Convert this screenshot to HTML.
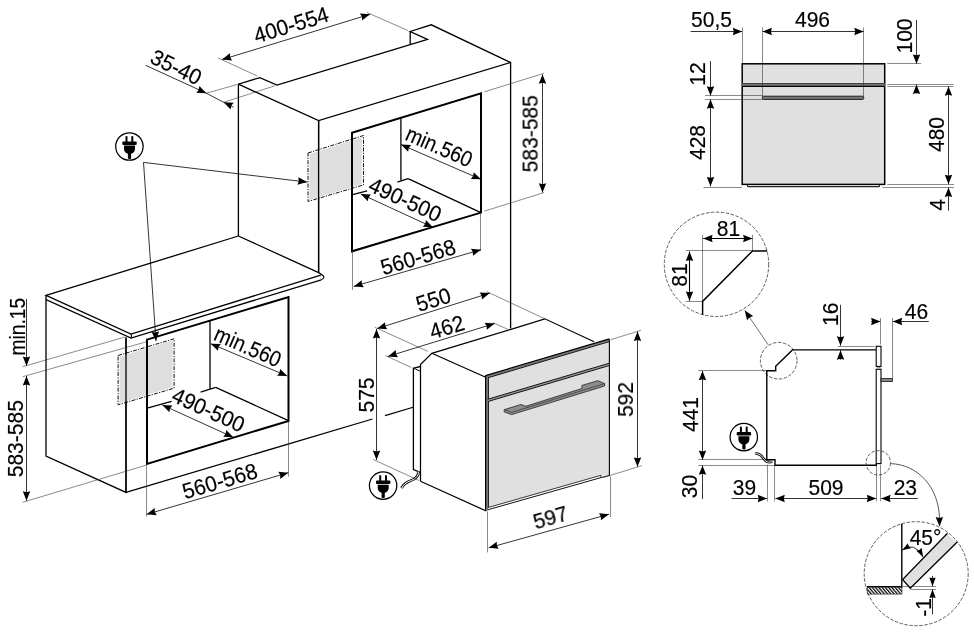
<!DOCTYPE html>
<html><head><meta charset="utf-8"><title>Oven installation diagram</title>
<style>
html,body{margin:0;padding:0;background:#fff;}
body{width:974px;height:634px;overflow:hidden;}
svg{display:block;}
text{font-family:"Liberation Sans",sans-serif;fill:#000;stroke:#000;stroke-width:0.18px;}

</style></head><body>
<svg width="974" height="634" viewBox="0 0 974 634">
<defs><filter id="soft" x="0" y="0" width="974" height="634" filterUnits="userSpaceOnUse"><feGaussianBlur stdDeviation="0.28"/></filter></defs>
<rect width="974" height="634" fill="#fff"/>
<path d="M238.4,236.0 L238.4,84.2 L259.8,77.6 L277.0,85.0 L427.5,39.4 L410.2,31.5 L431.3,24.8 L510.6,62.5 L510.6,328.5" stroke="#000" stroke-width="1.3" fill="none" stroke-linejoin="miter" />
<line x1="410.2" y1="31.5" x2="410.2" y2="44.3" stroke="#000" stroke-width="1.3" />
<path d="M238.4,84.2 L318.6,120.5 L510.6,62.5" stroke="#000" stroke-width="1.3" fill="none" stroke-linejoin="miter" />
<line x1="318.6" y1="120.5" x2="318.6" y2="272.6" stroke="#000" stroke-width="1.3" />
<path d="M352.0,132.7 L481.0,93.3 L481.0,212.6 L352.0,251.3 Z" stroke="#000" stroke-width="2.0" fill="none" stroke-linejoin="miter" />
<line x1="400.9" y1="117.6" x2="400.9" y2="180.4" stroke="#000" stroke-width="1.3" />
<line x1="408.1" y1="178.7" x2="480.9" y2="212.6" stroke="#000" stroke-width="1.3" />
<line x1="408.1" y1="178.7" x2="397.4" y2="182.1" stroke="#000" stroke-width="1.3" />
<line x1="367.1" y1="190.9" x2="352.6" y2="194.7" stroke="#000" stroke-width="1.3" />
<path d="M309.7,154.0 L362.2,137.0 L361.8,183.9 L309.3,200.0 Z" stroke="none" stroke-width="0" fill="#dedede" stroke-linejoin="miter" />
<path d="M308.0,153.0 L363.5,135.5 L363.5,184.9 L308.0,201.5 Z" stroke="#111" stroke-width="1.0" fill="none" stroke-linejoin="miter" stroke-dasharray="4 1.3 1.2 1.3"/>
<line x1="352.0" y1="132.7" x2="352.0" y2="251.3" stroke="#000" stroke-width="2.0" />
<line x1="318.6" y1="120.5" x2="318.6" y2="272.6" stroke="#000" stroke-width="1.3" />
<path d="M238.4,236.0 L46.0,295.4 L131.0,334.0 L320.8,275.1" stroke="#000" stroke-width="1.3" fill="none" stroke-linejoin="miter" />
<path d="M238.4,236.0 L318.6,272.6 L322.0,274.8" stroke="#000" stroke-width="1.3" fill="none" stroke-linejoin="miter" />
<path d="M46.0,295.4 L46.0,299.7 L131.0,338.0 L321.3,279.8" stroke="#000" stroke-width="1.3" fill="none" stroke-linejoin="miter" />
<path d="M131,334 Q132,336 131,338" stroke="#000" fill="none" stroke-width="1.1"/>
<path d="M321.5,274.6 Q326.5,277.3 321.3,279.8" stroke="#000" fill="none" stroke-width="1.1"/>
<path d="M46.0,299.7 L46.0,456.0 L126.0,492.4 L126.0,337.5" stroke="#000" stroke-width="1.3" fill="none" stroke-linejoin="miter" />
<line x1="126.0" y1="492.4" x2="372.5" y2="419.0" stroke="#000" stroke-width="1.3" />
<line x1="385.0" y1="415.7" x2="414.0" y2="407.0" stroke="#000" stroke-width="1.3" />
<path d="M147.0,339.6 L288.5,297.0 L288.5,420.9 L147.0,464.0 Z" stroke="#000" stroke-width="2.0" fill="none" stroke-linejoin="miter" />
<line x1="210.0" y1="320.8" x2="210.0" y2="389.0" stroke="#000" stroke-width="1.3" />
<line x1="215.7" y1="387.4" x2="288.4" y2="420.6" stroke="#000" stroke-width="1.3" />
<line x1="215.7" y1="387.4" x2="200.6" y2="392.1" stroke="#000" stroke-width="1.3" />
<line x1="171.6" y1="401.3" x2="147.2" y2="408.2" stroke="#000" stroke-width="1.3" />
<path d="M119.8,356.5 L172.8,340.3 L172.4,387.2 L119.4,403.3 Z" stroke="none" stroke-width="0" fill="#dedede" stroke-linejoin="miter" />
<path d="M118.1,355.5 L174.1,338.8 L174.1,388.2 L118.1,404.8 Z" stroke="#111" stroke-width="1.0" fill="none" stroke-linejoin="miter" stroke-dasharray="4 1.3 1.2 1.3"/>
<line x1="147.0" y1="339.6" x2="147.0" y2="464.0" stroke="#000" stroke-width="2.0" />
<line x1="126.0" y1="337.5" x2="126.0" y2="492.4" stroke="#000" stroke-width="1.3" />
<line x1="26.5" y1="299.0" x2="26.5" y2="366.0" stroke="#000" stroke-width="0.8" />
<polygon points="26.50,366.00 22.80,356.60 26.50,357.54 30.20,356.60" fill="#000"/>
<line x1="26.5" y1="376.0" x2="26.5" y2="500.7" stroke="#000" stroke-width="0.8" />
<polygon points="26.50,376.00 30.20,385.40 26.50,384.46 22.80,385.40" fill="#000"/>
<polygon points="26.50,500.70 22.80,491.30 26.50,492.24 30.20,491.30" fill="#000"/>
<line x1="22.7" y1="366.7" x2="125.0" y2="337.0" stroke="#2a2a2a" stroke-width="0.55" />
<line x1="22.7" y1="376.7" x2="146.7" y2="341.7" stroke="#2a2a2a" stroke-width="0.55" />
<line x1="22.7" y1="502.3" x2="146.7" y2="465.0" stroke="#2a2a2a" stroke-width="0.55" />
<line x1="146.7" y1="514.3" x2="288.3" y2="472.7" stroke="#000" stroke-width="0.8" />
<polygon points="146.70,514.30 154.68,508.10 154.82,511.92 156.76,515.20" fill="#000"/>
<polygon points="288.30,472.70 280.32,478.90 280.18,475.08 278.24,471.80" fill="#000"/>
<line x1="146.5" y1="463.3" x2="146.5" y2="516.7" stroke="#2a2a2a" stroke-width="0.55" />
<line x1="288.5" y1="420.7" x2="288.5" y2="476.7" stroke="#2a2a2a" stroke-width="0.55" />
<line x1="162.3" y1="405.0" x2="233.3" y2="437.3" stroke="#000" stroke-width="0.8" />
<polygon points="162.30,405.00 172.39,405.52 170.00,408.50 169.32,412.26" fill="#000"/>
<polygon points="233.30,437.30 223.21,436.78 225.60,433.80 226.28,430.04" fill="#000"/>
<line x1="210.7" y1="343.7" x2="287.3" y2="376.0" stroke="#000" stroke-width="0.8" />
<polygon points="210.70,343.70 220.80,343.94 218.50,346.99 217.92,350.76" fill="#000"/>
<polygon points="287.30,376.00 277.20,375.76 279.50,372.71 280.08,368.94" fill="#000"/>
<line x1="401.0" y1="144.6" x2="480.9" y2="179.3" stroke="#000" stroke-width="0.8" />
<polygon points="401.00,144.60 411.10,144.95 408.76,147.97 408.15,151.74" fill="#000"/>
<polygon points="480.90,179.30 470.80,178.95 473.14,175.93 473.75,172.16" fill="#000"/>
<line x1="360.8" y1="194.0" x2="432.9" y2="227.3" stroke="#000" stroke-width="0.8" />
<polygon points="360.80,194.00 370.89,194.58 368.48,197.55 367.78,201.30" fill="#000"/>
<polygon points="432.90,227.30 422.81,226.72 425.22,223.75 425.92,220.00" fill="#000"/>
<line x1="353.7" y1="286.4" x2="481.0" y2="249.7" stroke="#000" stroke-width="0.8" />
<polygon points="353.70,286.40 361.71,280.24 361.83,284.06 363.76,287.35" fill="#000"/>
<polygon points="481.00,249.70 472.99,255.86 472.87,252.04 470.94,248.75" fill="#000"/>
<line x1="352.5" y1="251.0" x2="352.5" y2="290.0" stroke="#2a2a2a" stroke-width="0.55" />
<line x1="480.5" y1="212.6" x2="480.5" y2="251.0" stroke="#2a2a2a" stroke-width="0.55" />
<line x1="542.5" y1="74.4" x2="542.5" y2="192.6" stroke="#000" stroke-width="0.8" />
<polygon points="542.50,74.40 546.20,83.80 542.50,82.86 538.80,83.80" fill="#000"/>
<polygon points="542.50,192.60 538.80,183.20 542.50,184.14 546.20,183.20" fill="#000"/>
<line x1="484.2" y1="91.9" x2="543.9" y2="73.3" stroke="#2a2a2a" stroke-width="0.55" />
<line x1="484.2" y1="211.2" x2="543.9" y2="192.6" stroke="#2a2a2a" stroke-width="0.55" />
<line x1="222.0" y1="59.6" x2="370.0" y2="14.3" stroke="#000" stroke-width="0.8" />
<polygon points="222.00,59.60 229.91,53.31 230.09,57.12 232.07,60.39" fill="#000"/>
<polygon points="370.00,14.30 362.09,20.59 361.91,16.78 359.93,13.51" fill="#000"/>
<line x1="217.9" y1="57.9" x2="257.3" y2="76.0" stroke="#2a2a2a" stroke-width="0.55" />
<line x1="367.0" y1="12.5" x2="407.9" y2="30.5" stroke="#2a2a2a" stroke-width="0.55" />
<line x1="145.6" y1="65.3" x2="206.4" y2="93.2" stroke="#000" stroke-width="0.8" />
<polygon points="206.40,93.20 196.31,92.64 198.71,89.67 199.40,85.92" fill="#000"/>
<line x1="223.6" y1="102.3" x2="233.5" y2="107.2" stroke="#000" stroke-width="0.8" />
<polygon points="223.60,102.30 233.69,102.86 231.29,105.83 230.60,109.58" fill="#000"/>
<line x1="206.4" y1="93.2" x2="223.6" y2="102.3" stroke="#000" stroke-width="0.8" />
<line x1="206.4" y1="93.2" x2="237.0" y2="84.5" stroke="#2a2a2a" stroke-width="0.55" />
<line x1="223.6" y1="102.3" x2="274.6" y2="85.9" stroke="#2a2a2a" stroke-width="0.55" />
<line x1="143.5" y1="162.4" x2="307.2" y2="182.1" stroke="#000" stroke-width="0.8" />
<polygon points="307.20,182.10 297.43,184.65 298.80,181.09 298.31,177.30" fill="#000"/>
<line x1="143.5" y1="162.4" x2="156.0" y2="341.0" stroke="#000" stroke-width="0.8" />
<polygon points="156.00,341.00 151.65,331.88 155.41,332.56 159.03,331.36" fill="#000"/>
<g transform="translate(129.4,146.5)"><circle r="13.7" fill="#fff" stroke="#000" stroke-width="1.25"/><rect x="-3.9" y="-10.6" width="2" height="6.5" rx="0.9" fill="#000"/><rect x="1.9" y="-10.6" width="2" height="6.5" rx="0.9" fill="#000"/><rect x="-7.1" y="-5" width="14.4" height="3.5" rx="1" fill="#000"/><path d="M-5.4,-0.9 H5.6 V2.5 C5.6,5 3.5,6.8 1.7,7.2 V12 C1.7,12.6 -1.5,12.6 -1.5,12 V7.2 C-3.3,6.8 -5.4,5 -5.4,2.5 Z" fill="#000"/></g>
<path d="M420.3,472.4 L413.4,469.5 L413.4,368.2 L420.5,366.5" stroke="#000" stroke-width="1.3" fill="none" stroke-linejoin="miter" />
<path d="M413.6,368.2 L420.5,371.3" stroke="#000" stroke-width="1.0" fill="none" stroke-linejoin="miter" />
<path d="M420.5,481.2 L420.5,364.6 L431.8,353.3 L511.0,329.3 L544.8,318.8 L594.1,341.7" stroke="#000" stroke-width="1.25" fill="none" stroke-linejoin="miter" />
<path d="M431.8,353.3 L485.2,377.0" stroke="#000" stroke-width="1.25" fill="none" stroke-linejoin="miter" />
<path d="M420.5,481.2 L486.2,511.0" stroke="#000" stroke-width="1.25" fill="none" stroke-linejoin="miter" />
<path d="M486.3,376.2 L608.8,339.5 L608.8,475.3 L601.0,475.3 L488.1,507.6 L486.3,507.6 Z" stroke="none" stroke-width="0" fill="#e0e0e0" stroke-linejoin="miter" />
<path d="M486.0,376.9 L609.0,340.3" stroke="#777" stroke-width="2.2" fill="none" stroke-linejoin="miter" />
<path d="M485.6,375.6 L609.4,338.8" stroke="#000" stroke-width="1.2" fill="none" stroke-linejoin="miter" />
<path d="M486.5,378.2 L609.0,341.7" stroke="#111" stroke-width="1.0" fill="none" stroke-linejoin="miter" />
<line x1="487.0" y1="377.0" x2="487.0" y2="509.0" stroke="#777" stroke-width="2.2" />
<line x1="485.6" y1="375.2" x2="485.6" y2="510.5" stroke="#000" stroke-width="1.2" />
<line x1="488.5" y1="377.6" x2="488.5" y2="507.6" stroke="#222" stroke-width="1.0" />
<line x1="609.4" y1="339.2" x2="609.4" y2="475.8" stroke="#111" stroke-width="1.2" />
<path d="M487.6,400.4 L609.0,364.4" stroke="#999" stroke-width="2.0" fill="none" stroke-linejoin="miter" />
<path d="M487.6,399.3 L609.0,363.3" stroke="#111" stroke-width="1.0" fill="none" stroke-linejoin="miter" />
<path d="M487.6,401.6 L609.0,365.6" stroke="#111" stroke-width="1.0" fill="none" stroke-linejoin="miter" />
<path d="M488.1,507.5 L601.0,475.3 L601.0,477.6" stroke="#222" stroke-width="0.9" fill="none" stroke-linejoin="miter" />
<path d="M486.0,510.3 L601.0,477.6 L609.4,475.4" stroke="#111" stroke-width="1.0" fill="none" stroke-linejoin="miter" />
<path d="M504.2,409.7 L520.9,404.5 L525.8,406.3 L581.9,388.5 L581.9,385.4 L597.9,380.7 L604.6,383.6 L604.6,386.0 L511.6,414.6 L504.2,411.9 Z" stroke="#333" stroke-width="0.9" fill="#8c8c8c" stroke-linejoin="miter" />
<path d="M504.2,409.7 L511.6,412.4 L604.6,383.6" stroke="#333" stroke-width="0.7" fill="none" stroke-linejoin="miter" />
<path d="M525.8,406.3 L527.5,407.4" stroke="#333" stroke-width="0.6" fill="none" stroke-linejoin="miter" />
<path d="M418.3,472 C419,477 414,479.5 410,481 C406,482.5 403.5,484.5 401.5,488" stroke="#111" stroke-width="2.8" fill="none"/>
<path d="M418.3,471.5 C419,477 414,479.5 410,481 C406,482.5 403.5,484.5 401.5,488.5" stroke="#fff" stroke-width="1.0" fill="none"/>
<g transform="translate(383.1,485.6)"><circle r="13.7" fill="#fff" stroke="#000" stroke-width="1.25"/><rect x="-3.9" y="-10.6" width="2" height="6.5" rx="0.9" fill="#000"/><rect x="1.9" y="-10.6" width="2" height="6.5" rx="0.9" fill="#000"/><rect x="-7.1" y="-5" width="14.4" height="3.5" rx="1" fill="#000"/><path d="M-5.4,-0.9 H5.6 V2.5 C5.6,5 3.5,6.8 1.7,7.2 V12 C1.7,12.6 -1.5,12.6 -1.5,12 V7.2 C-3.3,6.8 -5.4,5 -5.4,2.5 Z" fill="#000"/></g>
<line x1="377.2" y1="328.5" x2="489.8" y2="293.1" stroke="#000" stroke-width="0.8" />
<polygon points="377.20,328.50 385.06,322.15 385.27,325.96 387.28,329.21" fill="#000"/>
<polygon points="489.80,293.10 481.94,299.45 481.73,295.64 479.72,292.39" fill="#000"/>
<line x1="387.9" y1="356.4" x2="494.7" y2="323.5" stroke="#000" stroke-width="0.8" />
<polygon points="387.90,356.40 395.79,350.10 395.99,353.91 397.97,357.17" fill="#000"/>
<polygon points="494.70,323.50 486.81,329.80 486.61,325.99 484.63,322.73" fill="#000"/>
<line x1="374.8" y1="327.3" x2="427.7" y2="351.3" stroke="#2a2a2a" stroke-width="0.55" />
<line x1="385.5" y1="355.6" x2="411.3" y2="367.5" stroke="#2a2a2a" stroke-width="0.55" />
<line x1="486.5" y1="291.5" x2="544.8" y2="318.8" stroke="#2a2a2a" stroke-width="0.55" />
<line x1="493.1" y1="322.7" x2="507.8" y2="329.3" stroke="#2a2a2a" stroke-width="0.55" />
<line x1="376.5" y1="329.0" x2="376.5" y2="460.0" stroke="#000" stroke-width="0.8" />
<polygon points="376.50,329.00 380.20,338.40 376.50,337.46 372.80,338.40" fill="#000"/>
<polygon points="376.50,460.00 372.80,450.60 376.50,451.54 380.20,450.60" fill="#000"/>
<line x1="373.3" y1="459.5" x2="419.0" y2="480.5" stroke="#2a2a2a" stroke-width="0.55" />
<line x1="637.5" y1="331.5" x2="637.5" y2="466.8" stroke="#000" stroke-width="0.8" />
<polygon points="637.50,331.50 641.20,340.90 637.50,339.96 633.80,340.90" fill="#000"/>
<polygon points="637.50,466.80 633.80,457.40 637.50,458.34 641.20,457.40" fill="#000"/>
<line x1="610.7" y1="339.7" x2="640.9" y2="330.3" stroke="#2a2a2a" stroke-width="0.55" />
<line x1="603.3" y1="477.6" x2="641.8" y2="465.6" stroke="#2a2a2a" stroke-width="0.55" />
<line x1="488.7" y1="547.8" x2="609.0" y2="514.2" stroke="#000" stroke-width="0.8" />
<polygon points="488.70,547.80 496.76,541.71 496.85,545.52 498.75,548.83" fill="#000"/>
<polygon points="609.00,514.20 600.94,520.29 600.85,516.48 598.95,513.17" fill="#000"/>
<line x1="487.5" y1="511.5" x2="487.5" y2="552.4" stroke="#2a2a2a" stroke-width="0.55" />
<line x1="610.5" y1="476.5" x2="610.5" y2="517.0" stroke="#2a2a2a" stroke-width="0.55" />
<rect x="742.2" y="63.8" width="142.5" height="120.6" fill="#e0e0e0" stroke="#000" stroke-width="1.5"/>
<line x1="742.2" y1="85.0" x2="884.7" y2="85.0" stroke="#808080" stroke-width="3.8" />
<line x1="742.2" y1="83.6" x2="884.7" y2="83.6" stroke="#444" stroke-width="1.2" />
<line x1="742.2" y1="86.3" x2="884.7" y2="86.3" stroke="#000" stroke-width="1.2" />
<rect x="762.3" y="96.2" width="101.4" height="3.2" rx="1" fill="#777" stroke="#111" stroke-width="0.9"/>
<line x1="747.6" y1="186.6" x2="879.4" y2="186.6" stroke="#222" stroke-width="1.3" />
<line x1="747.5" y1="184.4" x2="747.5" y2="186.8" stroke="#000" stroke-width="0.8" />
<line x1="879.5" y1="184.4" x2="879.5" y2="186.8" stroke="#000" stroke-width="0.8" />
<line x1="690.6" y1="31.5" x2="742.2" y2="31.5" stroke="#000" stroke-width="0.8" />
<polygon points="742.20,31.50 732.80,35.20 733.74,31.50 732.80,27.80" fill="#000"/>
<line x1="762.5" y1="31.5" x2="863.7" y2="31.5" stroke="#000" stroke-width="0.8" />
<polygon points="762.50,31.50 771.90,27.80 770.96,31.50 771.90,35.20" fill="#000"/>
<polygon points="863.70,31.50 854.30,35.20 855.24,31.50 854.30,27.80" fill="#000"/>
<line x1="742.5" y1="27.4" x2="742.5" y2="63.8" stroke="#2a2a2a" stroke-width="0.55" />
<line x1="762.5" y1="27.4" x2="762.5" y2="96.0" stroke="#2a2a2a" stroke-width="0.55" />
<line x1="863.5" y1="27.4" x2="863.5" y2="96.0" stroke="#2a2a2a" stroke-width="0.55" />
<line x1="916.5" y1="20.0" x2="916.5" y2="63.8" stroke="#000" stroke-width="0.8" />
<polygon points="916.50,63.80 912.80,54.40 916.50,55.34 920.20,54.40" fill="#000"/>
<line x1="916.5" y1="84.5" x2="916.5" y2="93.5" stroke="#000" stroke-width="0.8" />
<polygon points="916.50,84.50 920.20,93.90 916.50,92.96 912.80,93.90" fill="#000"/>
<line x1="887.3" y1="63.5" x2="921.1" y2="63.5" stroke="#2a2a2a" stroke-width="0.55" />
<line x1="887.3" y1="84.5" x2="953.4" y2="84.5" stroke="#2a2a2a" stroke-width="0.55" />
<line x1="887.3" y1="86.5" x2="953.4" y2="86.5" stroke="#2a2a2a" stroke-width="0.55" />
<line x1="948.5" y1="86.4" x2="948.5" y2="184.2" stroke="#000" stroke-width="0.8" />
<polygon points="948.50,86.40 952.20,95.80 948.50,94.86 944.80,95.80" fill="#000"/>
<polygon points="948.50,184.20 944.80,174.80 948.50,175.74 952.20,174.80" fill="#000"/>
<line x1="887.3" y1="184.5" x2="954.0" y2="184.5" stroke="#2a2a2a" stroke-width="0.55" />
<line x1="882.5" y1="187.5" x2="954.0" y2="187.5" stroke="#2a2a2a" stroke-width="0.55" />
<line x1="948.5" y1="187.6" x2="948.5" y2="210.6" stroke="#000" stroke-width="0.8" />
<polygon points="948.50,187.60 952.20,197.00 948.50,196.06 944.80,197.00" fill="#000"/>
<line x1="710.5" y1="61.2" x2="710.5" y2="95.7" stroke="#000" stroke-width="0.8" />
<polygon points="710.50,95.70 706.80,86.30 710.50,87.24 714.20,86.30" fill="#000"/>
<line x1="710.5" y1="99.3" x2="710.5" y2="186.3" stroke="#000" stroke-width="0.8" />
<polygon points="710.50,99.30 714.20,108.70 710.50,107.76 706.80,108.70" fill="#000"/>
<polygon points="710.50,186.30 706.80,176.90 710.50,177.84 714.20,176.90" fill="#000"/>
<line x1="705.1" y1="95.5" x2="762.5" y2="95.5" stroke="#2a2a2a" stroke-width="0.55" />
<line x1="705.1" y1="99.5" x2="762.5" y2="99.5" stroke="#2a2a2a" stroke-width="0.55" />
<line x1="703.5" y1="187.5" x2="742.2" y2="187.5" stroke="#2a2a2a" stroke-width="0.55" />
<circle cx="716.5" cy="264.3" r="52.2" fill="none" stroke="#333" stroke-width="0.8" stroke-dasharray="3.4 1.6"/>
<line x1="703.2" y1="238.5" x2="752.5" y2="238.5" stroke="#000" stroke-width="1.1" />
<polygon points="703.20,238.50 712.60,234.80 711.66,238.50 712.60,242.20" fill="#000"/>
<polygon points="752.50,238.50 743.10,242.20 744.04,238.50 743.10,234.80" fill="#000"/>
<line x1="702.5" y1="234.9" x2="702.5" y2="301.4" stroke="#2a2a2a" stroke-width="0.55" />
<line x1="752.5" y1="234.9" x2="752.5" y2="250.9" stroke="#2a2a2a" stroke-width="0.55" />
<line x1="685.9" y1="250.5" x2="752.5" y2="250.5" stroke="#2a2a2a" stroke-width="0.55" />
<line x1="685.9" y1="301.5" x2="702.6" y2="301.5" stroke="#2a2a2a" stroke-width="0.55" />
<path d="M702.6,314.8 L702.6,301.4 L752.5,250.9 L767.1,250.9" stroke="#000" stroke-width="1.45" fill="none" stroke-linejoin="miter" />
<line x1="689.5" y1="251.5" x2="689.5" y2="300.8" stroke="#000" stroke-width="1.1" />
<polygon points="689.50,251.50 693.20,260.90 689.50,259.96 685.80,260.90" fill="#000"/>
<polygon points="689.50,300.80 685.80,291.40 689.50,292.34 693.20,291.40" fill="#000"/>
<line x1="768.1" y1="344.7" x2="744.8" y2="310.4" stroke="#333" stroke-width="0.7" />
<polygon points="744.80,310.40 753.14,316.10 749.55,317.40 747.02,320.25" fill="#000"/>
<circle cx="778.7" cy="360.7" r="18.3" fill="none" stroke="#333" stroke-width="0.8" stroke-dasharray="3.4 1.6"/>
<path d="M876.2,349.9 L792.4,349.9 L775.7,366.3 L775.7,370.8 L766.8,370.8 L766.8,459.8 L775.0,459.8 L775.0,465.3 L876.3,465.3 L876.3,463.6" stroke="#000" stroke-width="1.4" fill="none" stroke-linejoin="miter" />
<rect x="876.2" y="346.3" width="4.8" height="20.1" fill="#fff" stroke="#000" stroke-width="1.1"/>
<rect x="876.2" y="369.3" width="4.8" height="94.3" fill="#fff" stroke="#000" stroke-width="1.1"/>
<line x1="876.8" y1="367.8" x2="880.6" y2="367.8" stroke="#999" stroke-width="1.6" />
<rect x="881" y="378.6" width="11.4" height="2.8" fill="#888" stroke="#111" stroke-width="0.8"/>
<line x1="840.5" y1="304.8" x2="840.5" y2="345.7" stroke="#000" stroke-width="0.8" />
<polygon points="840.50,345.70 836.80,336.30 840.50,337.24 844.20,336.30" fill="#000"/>
<line x1="840.5" y1="350.3" x2="840.5" y2="359.7" stroke="#000" stroke-width="0.8" />
<polygon points="840.50,350.30 844.20,359.70 840.50,358.76 836.80,359.70" fill="#000"/>
<line x1="838.0" y1="346.5" x2="874.5" y2="346.5" stroke="#2a2a2a" stroke-width="0.55" />
<line x1="871.2" y1="321.5" x2="880.5" y2="321.5" stroke="#000" stroke-width="0.8" />
<polygon points="880.50,321.50 871.10,325.20 872.04,321.50 871.10,317.80" fill="#000"/>
<line x1="892.8" y1="321.5" x2="928.8" y2="321.5" stroke="#000" stroke-width="0.8" />
<polygon points="892.80,321.50 902.20,317.80 901.26,321.50 902.20,325.20" fill="#000"/>
<line x1="880.5" y1="318.0" x2="880.5" y2="344.5" stroke="#2a2a2a" stroke-width="0.55" />
<line x1="892.5" y1="318.0" x2="892.5" y2="378.5" stroke="#2a2a2a" stroke-width="0.55" />
<line x1="702.5" y1="370.9" x2="702.5" y2="459.9" stroke="#000" stroke-width="0.8" />
<polygon points="702.50,370.90 706.20,380.30 702.50,379.36 698.80,380.30" fill="#000"/>
<polygon points="702.50,459.90 698.80,450.50 702.50,451.44 706.20,450.50" fill="#000"/>
<line x1="698.2" y1="370.5" x2="766.4" y2="370.5" stroke="#2a2a2a" stroke-width="0.55" />
<line x1="698.2" y1="459.5" x2="766.4" y2="459.5" stroke="#2a2a2a" stroke-width="0.55" />
<line x1="698.2" y1="465.5" x2="774.7" y2="465.5" stroke="#2a2a2a" stroke-width="0.55" />
<line x1="702.5" y1="465.4" x2="702.5" y2="499.0" stroke="#000" stroke-width="0.8" />
<polygon points="702.50,465.40 706.20,474.80 702.50,473.86 698.80,474.80" fill="#000"/>
<line x1="731.5" y1="498.5" x2="767.1" y2="498.5" stroke="#000" stroke-width="0.8" />
<polygon points="767.10,498.50 757.70,502.20 758.64,498.50 757.70,494.80" fill="#000"/>
<line x1="775.4" y1="498.5" x2="876.2" y2="498.5" stroke="#000" stroke-width="0.8" />
<polygon points="775.40,498.50 784.80,494.80 783.86,498.50 784.80,502.20" fill="#000"/>
<polygon points="876.20,498.50 866.80,502.20 867.74,498.50 866.80,494.80" fill="#000"/>
<line x1="881.2" y1="498.5" x2="917.8" y2="498.5" stroke="#000" stroke-width="0.8" />
<polygon points="881.20,498.50 890.60,494.80 889.66,498.50 890.60,502.20" fill="#000"/>
<line x1="767.5" y1="464.7" x2="767.5" y2="501.3" stroke="#2a2a2a" stroke-width="0.55" />
<line x1="774.5" y1="464.7" x2="774.5" y2="501.3" stroke="#2a2a2a" stroke-width="0.55" />
<line x1="876.5" y1="464.7" x2="876.5" y2="501.3" stroke="#2a2a2a" stroke-width="0.55" />
<line x1="880.5" y1="464.7" x2="880.5" y2="501.3" stroke="#2a2a2a" stroke-width="0.55" />
<path d="M755,453.8 C759,453 761.5,455.5 763.5,458.5 C765.5,461.5 768,463.2 772.5,461.6" stroke="#111" stroke-width="2.6" fill="none"/>
<path d="M754.5,453.9 C759,453 761.5,455.5 763.5,458.5 C765.5,461.5 768,463.2 773,461.4" stroke="#fff" stroke-width="0.9" fill="none"/>
<g transform="translate(743.8,437.1)"><circle r="13.7" fill="#fff" stroke="#000" stroke-width="1.25"/><rect x="-3.9" y="-10.6" width="2" height="6.5" rx="0.9" fill="#000"/><rect x="1.9" y="-10.6" width="2" height="6.5" rx="0.9" fill="#000"/><rect x="-7.1" y="-5" width="14.4" height="3.5" rx="1" fill="#000"/><path d="M-5.4,-0.9 H5.6 V2.5 C5.6,5 3.5,6.8 1.7,7.2 V12 C1.7,12.6 -1.5,12.6 -1.5,12 V7.2 C-3.3,6.8 -5.4,5 -5.4,2.5 Z" fill="#000"/></g>
<circle cx="878.3" cy="462.8" r="12.2" fill="none" stroke="#333" stroke-width="0.8" stroke-dasharray="3.4 1.6"/>
<path d="M890.5,463.6 C918,464.5 938.5,487 939.5,518" stroke="#222" stroke-width="0.75" fill="none"/>
<polygon points="939.60,526.40 935.62,517.12 939.35,517.94 943.02,516.89" fill="#000"/>
<circle cx="916.2" cy="573.7" r="52" fill="none" stroke="#333" stroke-width="0.8" stroke-dasharray="3.4 1.6"/>
<path d="M902.6,579.5 L946.8,533.9 L956.5,542.7 L910.3,588.3 Z" stroke="none" stroke-width="0" fill="#e0e0e0" stroke-linejoin="miter" />
<path d="M947.5,533.2 L902.6,579.5 L910.3,588.3 L957.2,542.0" stroke="#000" stroke-width="1.3" fill="none" stroke-linejoin="miter" />
<path d="M901.8,523.7 L901.8,586.7 L866.7,586.7" stroke="#000" stroke-width="1.4" fill="none" stroke-linejoin="miter" />
<defs><pattern id="h" width="2.5" height="2.5" patternUnits="userSpaceOnUse" patternTransform="rotate(-40)"><rect width="2.5" height="2.5" fill="#fff"/><line x1="0.6" y1="0" x2="0.6" y2="2.5" stroke="#000" stroke-width="1.25"/></pattern></defs>
<rect x="867.4" y="587.2" width="34.6" height="6.9" fill="url(#h)" stroke="#222" stroke-width="0.6"/>
<path d="M902.1,550.3 Q914.2,540.8 923.1,556.9" stroke="#111" stroke-width="0.9" fill="none"/>
<polygon points="902.10,550.30 907.91,543.17 908.76,546.17 911.08,548.27" fill="#000"/>
<polygon points="923.10,556.90 916.35,550.65 919.40,550.00 921.64,547.81" fill="#000"/>
<line x1="932.5" y1="575.9" x2="932.5" y2="586.2" stroke="#000" stroke-width="0.8" />
<polygon points="932.50,586.20 929.30,577.50 932.50,578.37 935.70,577.50" fill="#000"/>
<line x1="932.5" y1="589.3" x2="932.5" y2="614.3" stroke="#000" stroke-width="0.8" />
<polygon points="932.50,589.30 935.70,598.00 932.50,597.13 929.30,598.00" fill="#000"/>
<line x1="903.0" y1="586.5" x2="936.0" y2="586.5" stroke="#2a2a2a" stroke-width="0.55" />
<line x1="910.5" y1="589.5" x2="936.0" y2="589.5" stroke="#2a2a2a" stroke-width="0.55" />
<g filter="url(#soft)">
<text font-size="22" text-anchor="middle" transform="translate(16.8 326.7) rotate(-90) scale(0.872,1)" dominant-baseline="central">min.15</text>
<text font-size="22" text-anchor="middle" transform="translate(16.0 438.7) rotate(-90) scale(0.955,1)" dominant-baseline="central">583-585</text>
<text font-size="22" text-anchor="middle" transform="translate(220.0 481.5) rotate(-16.4) scale(0.955,1)" dominant-baseline="central">560-568</text>
<text font-size="22" text-anchor="middle" transform="translate(208.3 410.3) rotate(24.5) scale(0.955,1)" dominant-baseline="central">490-500</text>
<text font-size="22" text-anchor="middle" transform="translate(248.0 346.3) rotate(23.5) scale(0.9,1)" dominant-baseline="central">min.560</text>
<text font-size="22" text-anchor="middle" transform="translate(439.3 146.3) rotate(23.5) scale(0.9,1)" dominant-baseline="central">min.560</text>
<text font-size="22" text-anchor="middle" transform="translate(405.0 200.0) rotate(24.5) scale(0.955,1)" dominant-baseline="central">490-500</text>
<text font-size="22" text-anchor="middle" transform="translate(418.2 257.5) rotate(-16.4) scale(0.955,1)" dominant-baseline="central">560-568</text>
<text font-size="22" text-anchor="middle" transform="translate(530.6 133.7) rotate(-90) scale(0.955,1)" dominant-baseline="central">583-585</text>
<text font-size="22" text-anchor="middle" transform="translate(291.3 25.3) rotate(-17) scale(0.955,1)" dominant-baseline="central">400-554</text>
<text font-size="22" text-anchor="middle" transform="translate(176.0 67.5) rotate(26) scale(0.955,1)" dominant-baseline="central">35-40</text>
<text font-size="22" text-anchor="middle" transform="translate(433.5 300.0) rotate(-17) scale(0.955,1)" dominant-baseline="central">550</text>
<text font-size="22" text-anchor="middle" transform="translate(447.0 327.5) rotate(-17) scale(0.955,1)" dominant-baseline="central">462</text>
<text font-size="22" text-anchor="middle" transform="translate(367.0 395.0) rotate(-90) scale(0.955,1)" dominant-baseline="central">575</text>
<text font-size="22" text-anchor="middle" transform="translate(626.0 399.5) rotate(-90) scale(0.955,1)" dominant-baseline="central">592</text>
<text font-size="22" text-anchor="middle" transform="translate(550.5 518.0) rotate(-16) scale(0.955,1)" dominant-baseline="central">597</text>
<text font-size="22" text-anchor="middle" transform="translate(711.5 19.5) rotate(0) scale(0.955,1)" dominant-baseline="central">50,5</text>
<text font-size="22" text-anchor="middle" transform="translate(812.5 19.5) rotate(0) scale(0.955,1)" dominant-baseline="central">496</text>
<text font-size="22" text-anchor="middle" transform="translate(905.0 36.0) rotate(-90) scale(0.955,1)" dominant-baseline="central">100</text>
<text font-size="22" text-anchor="middle" transform="translate(936.5 134.5) rotate(-90) scale(0.955,1)" dominant-baseline="central">480</text>
<text font-size="22" text-anchor="middle" transform="translate(938.0 205.0) rotate(-90) scale(0.955,1)" dominant-baseline="central">4</text>
<text font-size="22" text-anchor="middle" transform="translate(698.0 74.0) rotate(-90) scale(0.955,1)" dominant-baseline="central">12</text>
<text font-size="22" text-anchor="middle" transform="translate(698.0 142.5) rotate(-90) scale(0.955,1)" dominant-baseline="central">428</text>
<text font-size="22" text-anchor="middle" transform="translate(728.5 228.5) rotate(0) scale(0.955,1)" dominant-baseline="central">81</text>
<text font-size="22" text-anchor="middle" transform="translate(679.5 275.0) rotate(-90) scale(0.955,1)" dominant-baseline="central">81</text>
<text font-size="22" text-anchor="middle" transform="translate(831.0 314.3) rotate(-90) scale(0.955,1)" dominant-baseline="central">16</text>
<text font-size="22" text-anchor="middle" transform="translate(916.5 311.5) rotate(0) scale(0.955,1)" dominant-baseline="central">46</text>
<text font-size="22" text-anchor="middle" transform="translate(690.5 414.5) rotate(-90) scale(0.955,1)" dominant-baseline="central">441</text>
<text font-size="22" text-anchor="middle" transform="translate(689.5 486.5) rotate(-90) scale(0.955,1)" dominant-baseline="central">30</text>
<text font-size="22" text-anchor="middle" transform="translate(744.5 487.5) rotate(0) scale(0.955,1)" dominant-baseline="central">39</text>
<text font-size="22" text-anchor="middle" transform="translate(826.0 487.5) rotate(0) scale(0.955,1)" dominant-baseline="central">509</text>
<text font-size="22" text-anchor="middle" transform="translate(905.3 487.5) rotate(0) scale(0.955,1)" dominant-baseline="central">23</text>
<text font-size="22" text-anchor="middle" transform="translate(925.5 538.0) rotate(0) scale(0.955,1)" dominant-baseline="central">45°</text>
<text font-size="22" text-anchor="middle" transform="translate(924.3 607.3) rotate(-90) scale(0.955,1)" dominant-baseline="central">-1</text>
</g>
</svg>
</body></html>
